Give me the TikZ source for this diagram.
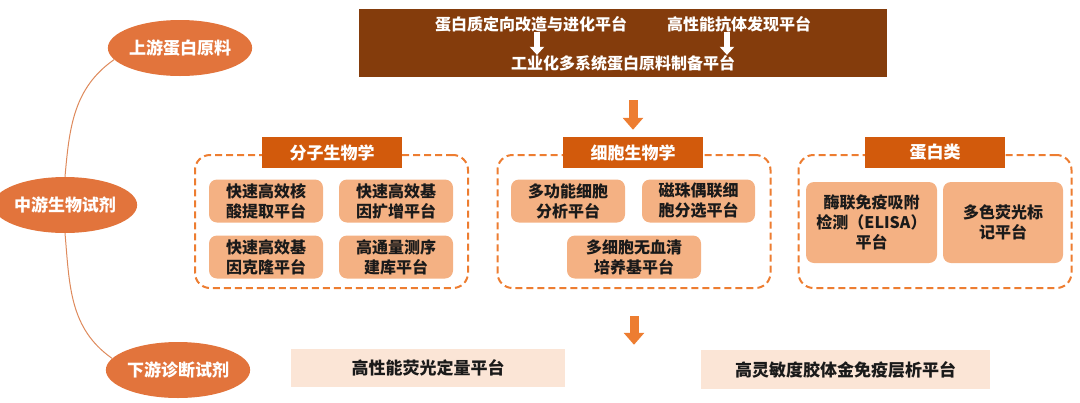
\documentclass[tikz,border=0pt]{standalone}
\usepackage{fontspec}
\setmainfont{Noto Sans CJK SC}
\usepackage{xcolor}
\usepackage{tikz}
\usetikzlibrary{calc}
\usetikzlibrary{arrows.meta}
\usetikzlibrary{shapes}
\usetikzlibrary{shapes.geometric}
\tikzset{>=latex}
\definecolor{topbrown}{HTML}{843C0C}
\definecolor{ellorange}{HTML}{E2743C}
\definecolor{taborange}{HTML}{D25A0C}
\definecolor{dashorange}{HTML}{ED7D31}
\definecolor{boxorange}{HTML}{F4B183}
\definecolor{palepeach}{HTML}{FBE5D6}
\definecolor{linkorange}{HTML}{DE8A5C}
\definecolor{darktext}{HTML}{1A1A1A}
\tikzstyle{stage} = [ellipse, fill = ellorange, text = white, font = \fontsize{17}{20}\selectfont\bfseries, minimum width = 125pt, minimum height = 56pt, inner sep = 0]
\tikzstyle{platform} = [rectangle, rounded corners = 8pt, fill = boxorange, text = darktext, align = center, font = \fontsize{16}{20}\selectfont\bfseries, inner sep = 0]
\tikzstyle{group} = [rectangle, rounded corners = 15pt, draw = dashorange, line width = 2pt, dash pattern = on 7pt off 4pt, minimum width = 273pt, minimum height = 133pt, inner sep = 0]
\tikzstyle{tab} = [rectangle, fill = taborange, text = white, font = \fontsize{17}{20}\selectfont\bfseries, minimum width = 140pt, minimum height = 31pt, inner sep = 0]
\tikzstyle{result} = [rectangle, fill = palepeach, text = darktext, font = \fontsize{17}{20}\selectfont\bfseries, inner sep = 0]
\tikzstyle{toptext} = [draw = none, text = white, font = \fontsize{16}{20}\selectfont\bfseries, inner sep = 0]
\tikzstyle{bigarrow} = [-{Triangle[width = 20pt, length = 12pt]}, line width = 9pt, draw = dashorange]
\tikzstyle{whitearrow} = [-{Triangle[width = 14pt, length = 8pt]}, line width = 6pt, draw = white]
\tikzstyle{branch} = [-, draw = linkorange, line width = 1pt]

\begin{document}
\begin{tikzpicture}[x = 1pt, y = -1pt]
\useasboundingbox (0, 0) rectangle (1080, 402);
% three stages
\node [stage] (up) at (180, 48) {上游蛋白原料};
\node [stage] (mid) at (65, 205) {中游生物试剂};
\node [stage] (down) at (178, 370) {下游诊断试剂};
\draw [branch] (mid.north) to [out = 85, in = 215] (up.190);
\draw [branch] (mid.south) to [out = -85, in = 145] (down.170);
% upstream platforms
\node [rectangle, fill = topbrown, minimum width = 528pt, minimum height = 68pt, inner sep = 0] (topbox) at (623, 43) {};
\node [toptext] (evo) at (531, 24) {蛋白质定向改造与进化平台};
\node [toptext] (ab) at (739, 24) {高性能抗体发现平台};
\node [toptext] (raw) at (623, 63) {工业化多系统蛋白原料制备平台};
\draw [whitearrow] ([xshift = 6pt]evo.south) to ([xshift = 6pt]evo.south |- raw.north);
\draw [whitearrow] ([xshift = -12pt]ab.south) to ([xshift = -12pt]ab.south |- raw.north);
% midstream groups
\node [group] (g1) at (331.5, 221.5) {};
\node [group] (g2) at (634, 221.5) {};
\node [group] (g3) at (935, 221.5) {};
\node [tab] (mol) at (332, 152.5) {分子生物学};
\node [tab] (cell) at (633, 152.5) {细胞生物学};
\node [tab] (prot) at (935, 152.5) {蛋白类};
\draw [bigarrow, shorten <= 23pt, shorten >= 7pt] (cell.north |- topbox.south) to (cell.north);
\node [platform, minimum width = 114pt, minimum height = 43pt] (nuc) at (266, 201) {快速高效核\\酸提取平台};
\node [platform, minimum width = 114pt, minimum height = 43pt] (amp) at (396, 201) {快速高效基\\因扩增平台};
\node [platform, minimum width = 114pt, minimum height = 43pt] (clone) at (266, 257) {快速高效基\\因克隆平台};
\node [platform, minimum width = 114pt, minimum height = 43pt] (seq) at (396, 257) {高通量测序\\建库平台};
\node [platform, minimum width = 114pt, minimum height = 43pt] (ana) at (568, 201) {多功能细胞\\分析平台};
\node [platform, minimum width = 113pt, minimum height = 43pt] (mag) at (698.5, 201) {磁珠偶联细\\胞分选平台};
\node [platform, minimum width = 134pt, minimum height = 43pt] (serum) at (634, 257) {多细胞无血清\\培养基平台};
\node [platform, minimum width = 131pt, minimum height = 81pt] (elisa) at (871.5, 222.5) {酶联免疫吸附\\检测（ELISA）\\平台};
\node [platform, minimum width = 120pt, minimum height = 81pt] (fluo) at (1003, 222.5) {多色荧光标\\记平台};
% downstream platforms
\node [result, minimum width = 274pt, minimum height = 38pt] (qpcr) at (428, 368) {高性能荧光定量平台};
\node [result, minimum width = 289pt, minimum height = 39pt] (gold) at (845.5, 369.5) {高灵敏度胶体金免疫层析平台};
\draw [bigarrow, shorten <= 27pt, shorten >= 4pt] (g2.south) to (g2.south |- qpcr.north);
\end{tikzpicture}
\end{document}
